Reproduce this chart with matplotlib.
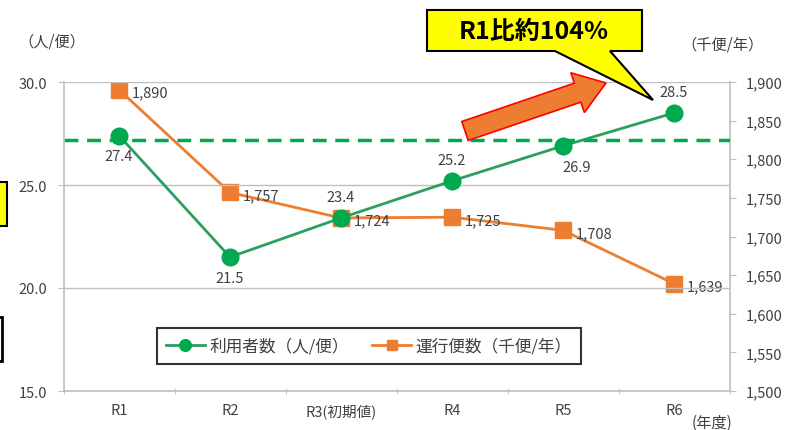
import matplotlib
matplotlib.use("Agg")
import matplotlib.pyplot as plt
import matplotlib.patches as mpatches
import numpy as np

plt.rcParams['font.family'] = ['Noto Sans CJK JP', 'DejaVu Sans']

### DATA ###
years = ["R1", "R2", "R3(初期値)", "R4", "R5", "R6"]
riders = [27.4, 21.5, 23.4, 25.2, 26.9, 28.5]          # 利用者数（人/便）
trips = [1890, 1757, 1724, 1725, 1708, 1639]           # 運行便数（千便/年）
target = 27.2
rider_label_pos = ["below", "below", "above", "above", "below", "above"]

GREEN = "#00A850"
GREEN_LINE = "#2E9E5E"
ORANGE = "#ED7D31"
GRAY = "#BFBFBF"
TXT = "#404040"

W, H = 789, 431


def px(x, y):
    return (x / W, 1 - y / H)


fig = plt.figure(figsize=(W / 100, H / 100), dpi=100)
ax = fig.add_axes([px(63.5, 0)[0], px(0, 392)[1], (729.5 - 63.5) / W, (392 - 83) / H])
ax2 = ax.twinx()

x = np.arange(len(years))
ax.set_xlim(-0.5, len(years) - 0.5)
ax.set_ylim(15, 30)
ax2.set_ylim(1500, 1900)

ax.set_yticks([15, 20, 25, 30])
ax.set_yticklabels(["%.1f" % v for v in [15, 20, 25, 30]], fontsize=10.5, color=TXT)
ax.yaxis.grid(True, color=GRAY, lw=1)
ax.set_axisbelow(True)
ax2.set_yticks(np.arange(1500, 1901, 50))
ax2.set_yticklabels(["{:,}".format(v) for v in range(1500, 1901, 50)], fontsize=10.5, color=TXT)

ax.set_xticks(x)
ax.set_xticklabels(years, fontsize=10.5, color=TXT)
ax.set_xticks(np.arange(-0.5, len(years), 1), minor=True)
ax.tick_params(axis="x", which="major", length=0, pad=9)
ax.tick_params(axis="x", which="minor", length=5, color=GRAY, direction="inout")
ax.tick_params(axis="y", length=4, color=GRAY, pad=8)
ax2.tick_params(axis="y", length=4, color=GRAY, pad=8)

for a in (ax, ax2):
    for s in a.spines.values():
        s.set_visible(False)
ax.spines["left"].set_visible(True)
ax.spines["bottom"].set_visible(True)
ax2.spines["right"].set_visible(True)
for s in (ax.spines["left"], ax.spines["bottom"], ax2.spines["right"]):
    s.set_color(GRAY)
    s.set_linewidth(1.2)

# target line
ax.axhline(target, color=GREEN, lw=2.5, ls=(0, (4, 2.5)), zorder=2)

# series
l2, = ax2.plot(x, trips, color=ORANGE, lw=2, marker="s", markersize=11,
               markerfacecolor=ORANGE, markeredgecolor=ORANGE, zorder=3,
               label="運行便数（千便/年）")
l1, = ax.plot(x, riders, color=GREEN_LINE, lw=2, marker="o", markersize=12,
              markerfacecolor=GREEN, markeredgecolor=GREEN, zorder=4,
              label="利用者数（人/便）")
ax.set_zorder(ax2.get_zorder() + 1)
ax.patch.set_visible(False)

for i, v in enumerate(riders):
    dy = -15 if rider_label_pos[i] == "below" else 15
    dx = 10 if i == 4 else 0
    ax.annotate("%.1f" % v, (x[i], v), xytext=(dx, dy), textcoords="offset points",
                ha="center", va="center", fontsize=10.5, color=TXT, zorder=6)
for i, v in enumerate(trips):
    ax2.annotate("{:,}".format(v), (x[i], v), xytext=(9, -2), textcoords="offset points",
                 ha="left", va="center", fontsize=10.5, color=TXT)

leg = ax.legend(handles=[l1, l2], loc="center", bbox_to_anchor=(
    (369 - 63.5) / 666, (392 - 347) / 309), ncol=2, fontsize=12, frameon=True,
    fancybox=False, edgecolor="black", handlelength=2.3, columnspacing=1.4,
    borderpad=0.55, handletextpad=0.3, markerscale=0.7)
leg.get_frame().set_linewidth(1.5)
for t in leg.get_texts():
    t.set_color(TXT)
leg.set_zorder(10)

# axis unit labels
fig.text(*px(52, 42), "（人/便）", ha="center", va="center", fontsize=11, color=TXT)
fig.text(*px(722, 45), "（千便/年）", ha="center", va="center", fontsize=11, color=TXT)
fig.text(*px(712, 423), "(年度)", ha="center", va="center", fontsize=11, color=TXT)

# orange arrow
tail = np.array([465.0, 132.0])
tip = np.array([606.0, 84.0])
u = (tip - tail) / np.linalg.norm(tip - tail)
n = np.array([-u[1], u[0]])
hl, sw, hw = 30, 10, 21
base = tip - u * hl
pts = [tail + n * sw, base + n * sw, base + n * hw, tip,
       base - n * hw, base - n * sw, tail - n * sw]
fig.patches.append(mpatches.Polygon([px(*p) for p in pts], closed=True,
                                    transform=fig.transFigure, facecolor=ORANGE,
                                    edgecolor="red", lw=1.2, zorder=5))

# callout
callout = [(427, 11), (642, 11), (642, 52), (610, 52), (653, 101), (555, 52), (427, 52)]
fig.patches.append(mpatches.Polygon([px(*p) for p in callout], closed=True,
                                    transform=fig.transFigure, facecolor="#FFFF00",
                                    edgecolor="black", lw=1.5, zorder=5))
fig.text(*px(534, 32), "R1比約104%", ha="center", va="center", fontsize=18,
         fontweight="bold", color="black", zorder=6)

# cropped boxes at left edge
fig.patches.append(mpatches.Rectangle(px(-10, 227), 17 / W, 44 / H, transform=fig.transFigure,
                                      facecolor="#FFFF00", edgecolor="black", lw=1.5))
fig.patches.append(mpatches.Rectangle(px(-10, 362), 12 / W, 44 / H, transform=fig.transFigure,
                                      facecolor="white", edgecolor="black", lw=2))

fig.savefig("out.png", dpi=100)
